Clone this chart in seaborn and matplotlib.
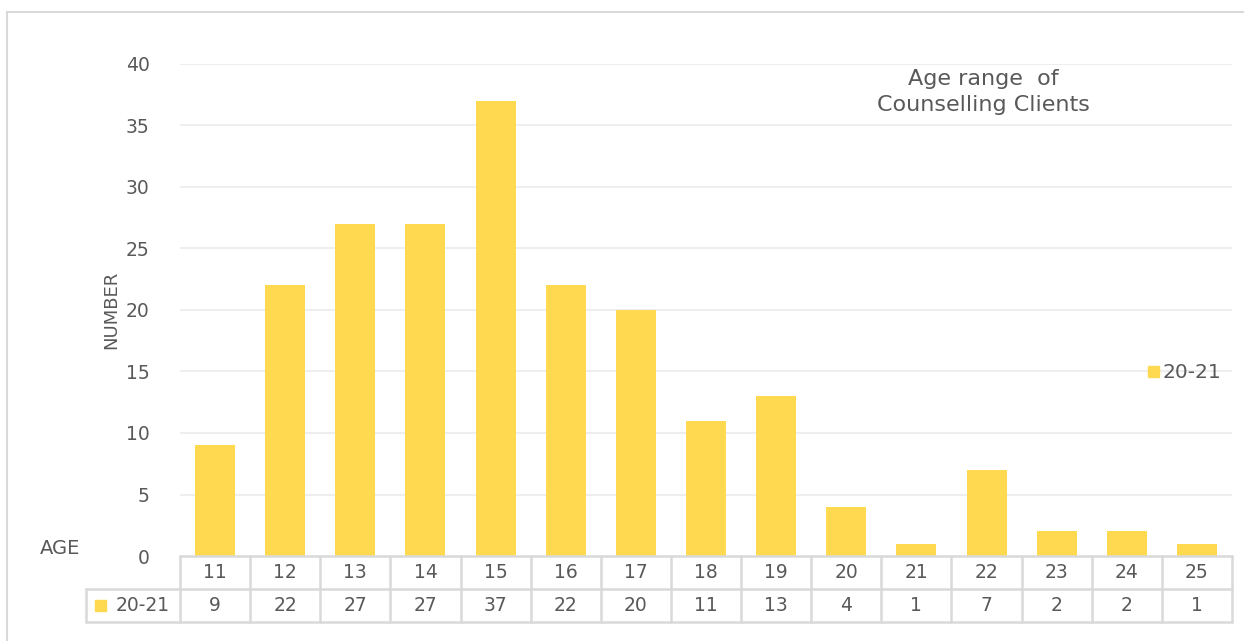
# Age range of counselling clients - bar chart with data table underneath

import matplotlib
matplotlib.use("Agg")

import pandas as pd
import matplotlib.pyplot as plt
import seaborn as sns
from matplotlib.patches import Rectangle

ages = ["11", "12", "13", "14", "15", "16", "17", "18", "19", "20", "21", "22", "23", "24", "25"]
clients_2021 = [9, 22, 27, 27, 37, 22, 20, 11, 13, 4, 1, 7, 2, 2, 1]
series_name = "20-21"
y_ticks = [0, 5, 10, 15, 20, 25, 30, 35, 40]

BAR_COLOR = "#FFD94F"
TEXT_COLOR = "#595959"
GRID_COLOR = "#EEEEEE"
TABLE_COLOR = "#D9D9D9"

df = pd.DataFrame({"age": ages, "count": clients_2021})

sns.set_theme(style="white")
plt.rcParams["font.family"] = ["DejaVu Sans"]

fig = plt.figure(figsize=(12.44, 6.41), dpi=100)
ax = fig.add_axes([180 / 1244, 1 - 556 / 641, 1052 / 1244, 492 / 641])

sns.barplot(data=df, x="age", y="count", color=BAR_COLOR, width=0.57,
            saturation=1, linewidth=0, ax=ax)

ax.set_ylim(0, 40)
ax.set_xlim(-0.5, len(ages) - 0.5)
ax.set_yticks(y_ticks)
ax.set_yticklabels([str(t) for t in y_ticks], fontsize=13.5, color=TEXT_COLOR)
ax.tick_params(axis="y", length=0, pad=22)
ax.set_xticks([])
ax.set_xlabel("")
ax.set_ylabel("NUMBER", fontsize=13, color=TEXT_COLOR)
ax.yaxis.set_label_coords(-60 / 1052, 0.5)

for t in y_ticks[1:]:
    ax.axhline(t, color=GRID_COLOR, lw=1.5, zorder=0)
ax.set_axisbelow(True)
for side in ["top", "right", "left", "bottom"]:
    ax.spines[side].set_visible(False)

# data table below the axis, drawn in (data x, axes y) coordinates
trans = ax.get_xaxis_transform()
row_h = 33 / 492
n = len(ages)
line_kw = dict(color=TABLE_COLOR, lw=1.8, transform=trans, clip_on=False)
head_left = -0.5 - 94 / 70

ax.plot([-0.5, n - 0.5], [0, 0], **line_kw)
ax.plot([head_left, n - 0.5], [-row_h, -row_h], **line_kw)
ax.plot([head_left, n - 0.5], [-2 * row_h, -2 * row_h], **line_kw)
ax.plot([head_left, head_left], [-row_h, -2 * row_h], **line_kw)
for i in range(n + 1):
    ax.plot([i - 0.5, i - 0.5], [0, -2 * row_h], **line_kw)

for i, (age, val) in enumerate(zip(ages, clients_2021)):
    ax.text(i, -row_h / 2, age, transform=trans, ha="center", va="center",
            fontsize=13.5, color=TEXT_COLOR)
    ax.text(i, -1.5 * row_h, str(val), transform=trans, ha="center", va="center",
            fontsize=13.5, color=TEXT_COLOR)

# legend key inside the table header cell
ax.add_patch(Rectangle((-0.5 - 85 / 70, -1.5 * row_h - 5.5 / 492), 11 / 70, 11 / 492,
                       transform=trans, color=BAR_COLOR, clip_on=False))
ax.text(-0.5 - 10 / 70, -1.5 * row_h, series_name, transform=trans, ha="right",
        va="center", fontsize=13.5, color=TEXT_COLOR)

fig.text(40 / 1244, 1 - 548 / 641, "AGE", fontsize=14, color=TEXT_COLOR,
         ha="left", va="center")

# series legend on the right
fig.patches.append(Rectangle((1148 / 1244, 1 - 377 / 641), 11 / 1244, 11 / 641,
                             transform=fig.transFigure, color=BAR_COLOR))
fig.text(1163 / 1244, 1 - 372 / 641, series_name, fontsize=14.5, color=TEXT_COLOR,
         ha="left", va="center")

fig.text(983 / 1244, 1 - 92 / 641, "Age range  of\nCounselling Clients",
         fontsize=16, color=TEXT_COLOR, ha="center", va="center",
         linespacing=1.4)

# outer chart border
fig.patches.append(Rectangle((7 / 1244, -0.01), 1.02, 1 - 12 / 641 + 0.01,
                             transform=fig.transFigure, fill=False,
                             edgecolor=TABLE_COLOR, lw=1.5))

fig.savefig("out.png", dpi=100)
plt.close(fig)
